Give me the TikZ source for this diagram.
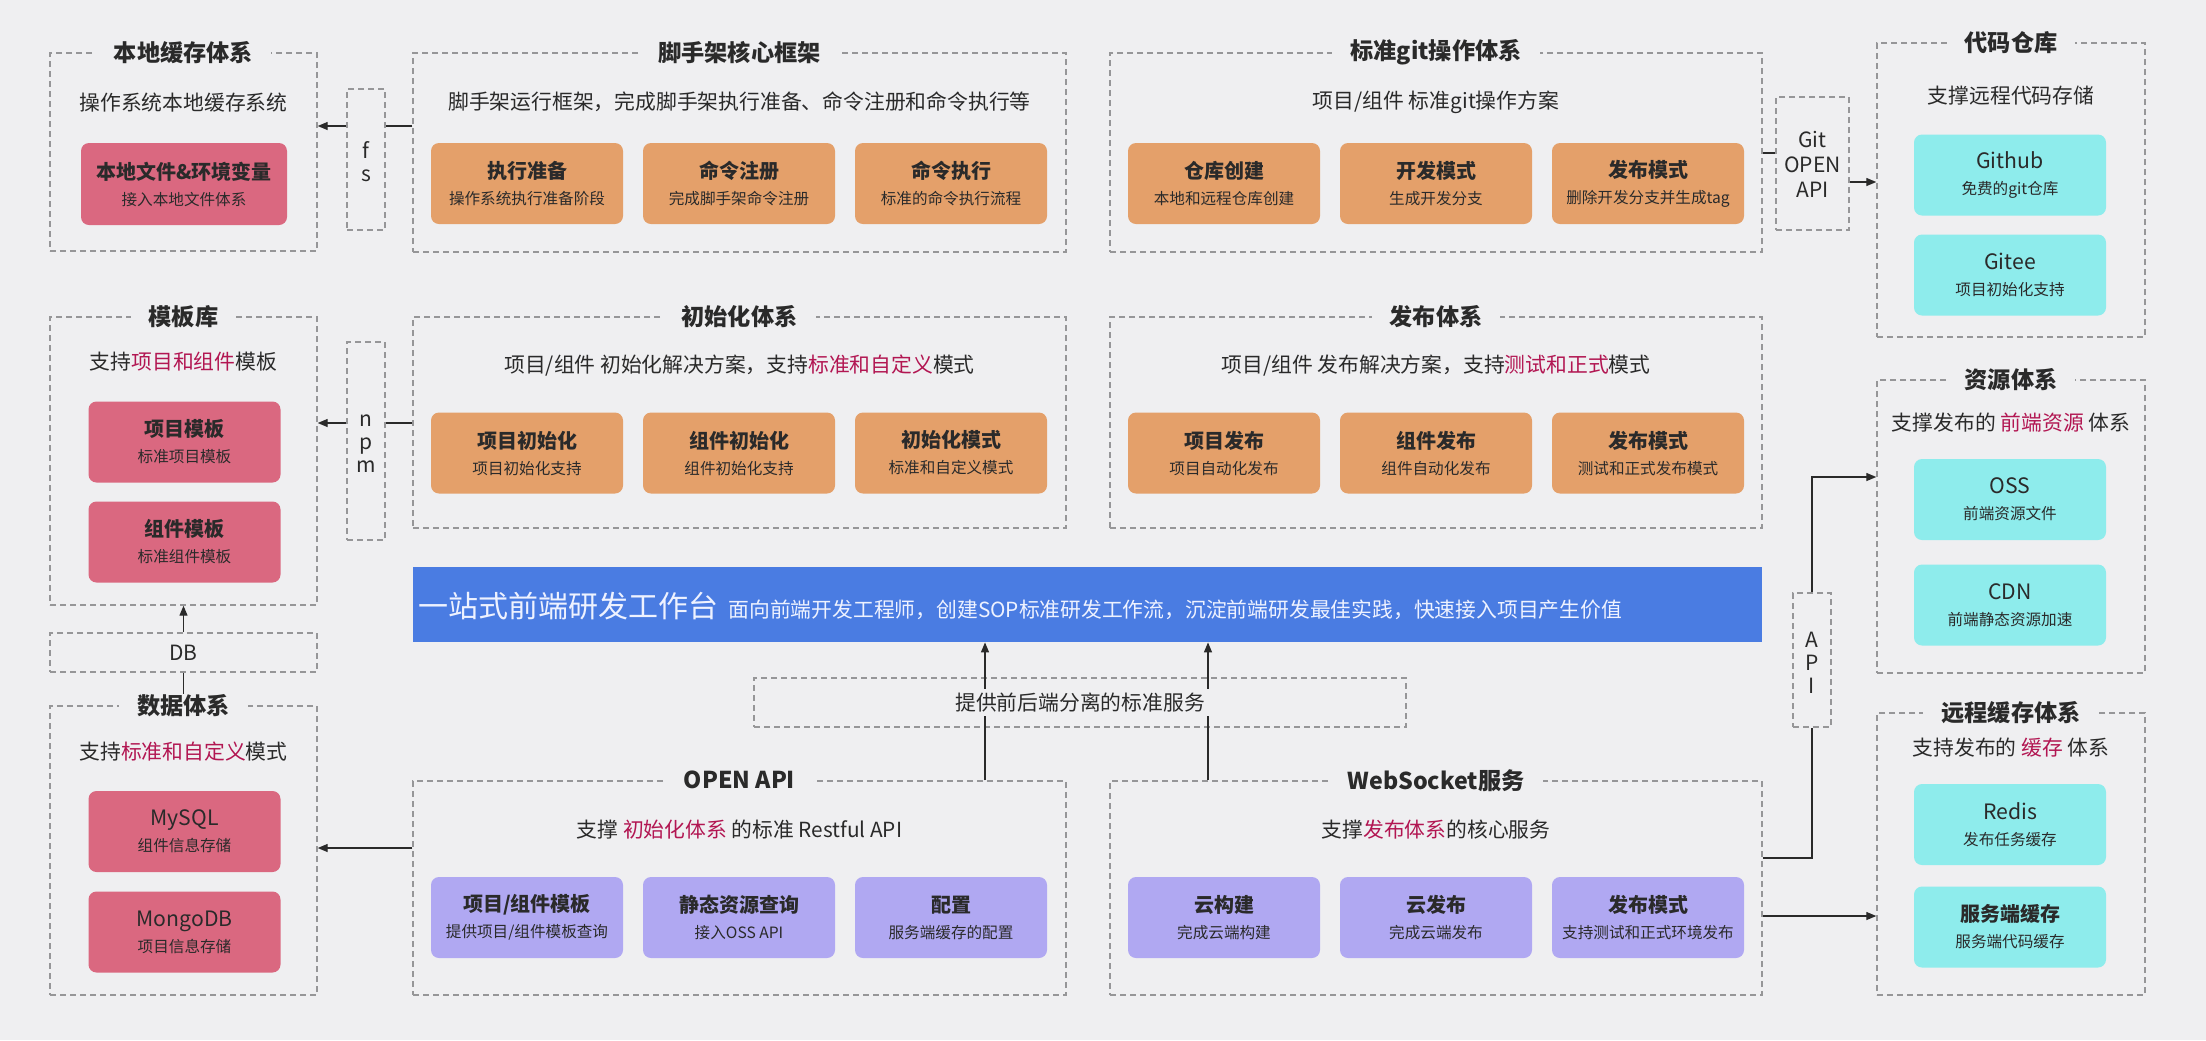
\documentclass[tikz,border=0pt]{standalone}
\usepackage{fontspec}
\setmainfont{Noto Sans CJK SC}
\usetikzlibrary{arrows.meta}
\definecolor{bgc}{RGB}{239,239,241}
\definecolor{dashc}{RGB}{150,150,152}
\definecolor{txt}{RGB}{42,42,42}
\definecolor{orangec}{RGB}{228,160,106}
\definecolor{redc}{RGB}{218,104,128}
\definecolor{cyanc}{RGB}{142,236,236}
\definecolor{purplec}{RGB}{176,168,242}
\definecolor{bluec}{RGB}{74,124,226}
\definecolor{hlc}{RGB}{178,22,82}
\newcommand\hlt[1]{\textcolor{hlc}{#1}}
\newcommand\boxlab[2]{{\fontsize{10}{12}\selectfont\bfseries #1}\\[1pt]{\fontsize{7.8}{9}\selectfont #2}}
\newcommand\boxlabr[2]{{\fontsize{10.6}{12}\selectfont #1}\\[1pt]{\fontsize{7.8}{9}\selectfont #2}}
\tikzset{
  grp/.style={draw=dashc, line width=0.7pt, dash pattern=on 3pt off 2pt, inner sep=0pt},
  sz/.style 2 args={minimum width=#1*0.5pt, minimum height=#2*0.5pt},
  gtitle/.style={fill=bgc, text=txt, font=\fontsize{11.6}{14}\selectfont\bfseries, inner xsep=9pt, inner ysep=0pt},
  gsub/.style={text=txt, font=\fontsize{10.4}{12}\selectfont, inner sep=0pt},
  cb/.style={rounded corners=4pt, align=center, text=txt, inner sep=0pt, sz={192}{81}},
  ob/.style={cb, fill=orangec},
  rb/.style={cb, fill=redc},
  cyb/.style={cb, fill=cyanc},
  pb/.style={cb, fill=purplec},
  vtext/.style={align=center, text=txt, font=\fontsize{10.5}{11.5}\selectfont, inner sep=0pt},
  ln/.style={draw=txt, line width=0.65pt},
  arr/.style={ln, -{Triangle[length=5pt,width=4pt]}},
}
\begin{document}
\begin{tikzpicture}[x=0.5pt,y=-0.5pt]
\fill[bgc] (0,0) rectangle (2206,1040);

% ---------- left column ----------
\node[grp, sz={267}{198}] (local) at (183.5,152) {};
\node[gsub] (localS) at (183.5,103) {操作系统本地缓存系统};
\node[rb, sz={206}{82}] (localF) at (184,184) {\boxlab{本地文件\&环境变量}{接入本地文件体系}};

\node[grp, sz={267}{288}] (tpl) at (183.5,461) {};
\node[gsub] (tplS) at (183.5,362) {支持\hlt{项目和组件}模板};
\node[rb] (tplA) at (184.5,442) {\boxlab{项目模板}{标准项目模板}};
\node[rb] (tplB) at (184.5,542) {\boxlab{组件模板}{标准组件模板}};

\node[grp, sz={267}{39}] (db) at (183.5,652.5) {};
\node[vtext] (dbT) at (db.center) {DB};

\node[grp, sz={267}{289}] (data) at (183.5,850.5) {};
\node[gsub] (dataS) at (183.5,752) {支持\hlt{标准和自定义}模式};
\node[rb] (dataA) at (184.5,831.5) {\boxlabr{MySQL}{组件信息存储}};
\node[rb] (dataB) at (184.5,932) {\boxlabr{MongoDB}{项目信息存储}};

\node[grp, sz={38}{141}] (fs) at (366,159.5) {};
\node[vtext] (fsT) at (366,162) {f\\s};
\node[grp, sz={38}{198}] (npm) at (366,441) {};
\node[vtext] (npmT) at (366,443.5) {n\\p\\m};

% ---------- middle: row 1 ----------
\node[grp, sz={653}{199}] (scaf) at (739.5,152.5) {};
\node[gsub] (scafS) at (739.5,102) {脚手架运行框架，完成脚手架执行准备、命令注册和命令执行等};
\node[ob] (scafA) at (527,183.5) {\boxlab{执行准备}{操作系统执行准备阶段}};
\node[ob] (scafB) at (739,183.5) {\boxlab{命令注册}{完成脚手架命令注册}};
\node[ob] (scafC) at (951,183.5) {\boxlab{命令执行}{标准的命令执行流程}};

\node[grp, sz={652}{199}] (gitsys) at (1436,152.5) {};
\node[gsub] (gitsysS) at (1436,102) {项目/组件 标准git操作方案};
\node[ob] (gitA) at (1224,183.5) {\boxlab{仓库创建}{本地和远程仓库创建}};
\node[ob] (gitB) at (1436,183.5) {\boxlab{开发模式}{生成开发分支}};
\node[ob] (gitC) at (1648,183.5) {\boxlab{发布模式}{删除开发分支并生成tag}};

% ---------- middle: row 2 ----------
\node[grp, sz={653}{211}] (init) at (739.5,422.5) {};
\node[gsub] (initS) at (739.5,366) {项目/组件 初始化解决方案，支持\hlt{标准和自定义}模式};
\node[ob] (initA) at (527,453) {\boxlab{项目初始化}{项目初始化支持}};
\node[ob] (initB) at (739,453) {\boxlab{组件初始化}{组件初始化支持}};
\node[ob] (initC) at (951,453) {\boxlab{初始化模式}{标准和自定义模式}};

\node[grp, sz={652}{211}] (pub) at (1436,422.5) {};
\node[gsub] (pubS) at (1436,366) {项目/组件 发布解决方案，支持\hlt{测试和正式}模式};
\node[ob] (pubA) at (1224,453) {\boxlab{项目发布}{项目自动化发布}};
\node[ob] (pubB) at (1436,453) {\boxlab{组件发布}{组件自动化发布}};
\node[ob] (pubC) at (1648,453) {\boxlab{发布模式}{测试和正式发布模式}};

% ---------- blue bar ----------
\node[fill=bluec, inner sep=0pt, sz={1349}{75}] (blue) at (1087.5,604.5) {};
\node[anchor=west, text={rgb,255:red,238;green,242;blue,255}, inner sep=0pt] (blueT) at (418,606)
  {{\fontsize{15}{17}\selectfont 一站式前端研发工作台}\hspace{5pt}{\fontsize{10.4}{12}\selectfont 面向前端开发工程师，创建SOP标准研发工作流，沉淀前端研发最佳实践，快速接入项目产生价值}};

% ---------- service ----------
\node[grp, sz={652}{49}] (svc) at (1080,702.5) {};

% ---------- middle: row 3 ----------
\node[grp, sz={653}{214}] (openapi) at (739.5,888) {};
\node[gsub] (openapiS) at (739.5,830) {支撑 \hlt{初始化体系} 的标准 Restful API};
\node[pb] (oaA) at (527,917.5) {\boxlab{项目/组件模板}{提供项目/组件模板查询}};
\node[pb] (oaB) at (739,917.5) {\boxlab{静态资源查询}{接入OSS API}};
\node[pb] (oaC) at (951,917.5) {\boxlab{配置}{服务端缓存的配置}};

\node[grp, sz={652}{214}] (ws) at (1436,888) {};
\node[gsub] (wsS) at (1436,830) {支撑\hlt{发布体系}的核心服务};
\node[pb] (wsA) at (1224,917.5) {\boxlab{云构建}{完成云端构建}};
\node[pb] (wsB) at (1436,917.5) {\boxlab{云发布}{完成云端发布}};
\node[pb] (wsC) at (1648,917.5) {\boxlab{发布模式}{支持测试和正式环境发布}};

% ---------- right column ----------
\node[grp, sz={73}{133}] (gitapi) at (1812.5,163.5) {};
\node[vtext, font=\fontsize{10.5}{12.5}\selectfont] (gitapiT) at (1812.5,164) {Git\\OPEN\\API};
\node[grp, sz={38}{134}] (api) at (1812,660) {};
\node[vtext] (apiT) at (1812,663) {A\\P\\I};

\node[grp, sz={268}{294}] (repo) at (2011,190) {};
\node[gsub] (repoS) at (2011,96) {支撑远程代码存储};
\node[cyb] (repoA) at (2010,175) {\boxlabr{Github}{免费的git仓库}};
\node[cyb] (repoB) at (2010,275) {\boxlabr{Gitee}{项目初始化支持}};

\node[grp, sz={268}{293}] (res) at (2011,526.5) {};
\node[gsub] (resS) at (2011,423) {支撑发布的 \hlt{前端资源} 体系};
\node[cyb] (resA) at (2010,499.5) {\boxlabr{OSS}{前端资源文件}};
\node[cyb] (resB) at (2010,605) {\boxlabr{CDN}{前端静态资源加速}};

\node[grp, sz={268}{282}] (cache) at (2011,854) {};
\node[gsub] (cacheS) at (2011,748) {支持发布的 \hlt{缓存} 体系};
\node[cyb] (cacheA) at (2010,824.5) {\boxlabr{Redis}{发布任务缓存}};
\node[cyb] (cacheB) at (2010,927) {\boxlab{服务端缓存}{服务端代码缓存}};

% ---------- connectors ----------
\coordinate (yfs) at (0,126);
\draw[ln] (scaf.west |- yfs) -- (fs.east |- yfs);
\draw[arr] (fs.west |- yfs) -- (local.east |- yfs);
\coordinate (ynpm) at (0,423);
\draw[ln] (init.west |- ynpm) -- (npm.east |- ynpm);
\draw[arr] (npm.west |- ynpm) -- (tpl.east |- ynpm);
\draw[arr] (db.north) -- (tpl.south);
\coordinate (yoa) at (0,848);
\draw[arr] (openapi.west |- yoa) -- (data.east |- yoa);
\coordinate (xa) at (985,0);
\coordinate (xb) at (1208,0);
\draw[arr] (openapi.north -| xa) -- (blue.south -| xa);
\draw[arr] (ws.north -| xb) -- (blue.south -| xb);
\coordinate (yg1) at (0,153);
\draw[ln] (gitsys.east |- yg1) -- (gitapi.west |- yg1);
\coordinate (yg2) at (0,182);
\draw[arr] (gitapi.east |- yg2) -- (repo.west |- yg2);
\coordinate (yw1) at (0,858);
\draw[ln] (ws.east |- yw1) -- (api.south |- yw1) -- (api.south);
\coordinate (yres) at (0,477);
\draw[arr] (api.north) -- (api.north |- yres) -- (res.west |- yres);
\coordinate (yw2) at (0,916);
\draw[arr] (ws.east |- yw2) -- (cache.west |- yw2);

% ---------- titles (over borders) ----------
\node[gtitle] (localT) at (local.north) {本地缓存体系};
\node[gtitle] (tplT) at (tpl.north) {模板库};
\node[gtitle] (dataT) at (data.north) {数据体系};
\draw[ln] (db.south) -- (dataT.north);
\node[gtitle] (scafT) at (scaf.north) {脚手架核心框架};
\node[gtitle] (gitsysT) at (gitsys.north) {标准git操作体系};
\node[gtitle] (initT) at (init.north) {初始化体系};
\node[gtitle] (pubT) at (pub.north) {发布体系};
\node[gtitle] (openapiT) at (openapi.north) {OPEN API};
\node[gtitle] (wsT) at (ws.north) {WebSocket服务};
\node[gtitle] (repoT) at (repo.north) {代码仓库};
\node[gtitle] (resT) at (res.north) {资源体系};
\node[gtitle] (cacheT) at (cache.north) {远程缓存体系};
\node[gsub, fill=bgc, inner xsep=3pt, inner ysep=2pt] (svcT) at (svc.center) {提供前后端分离的标准服务};
\end{tikzpicture}
\end{document}
